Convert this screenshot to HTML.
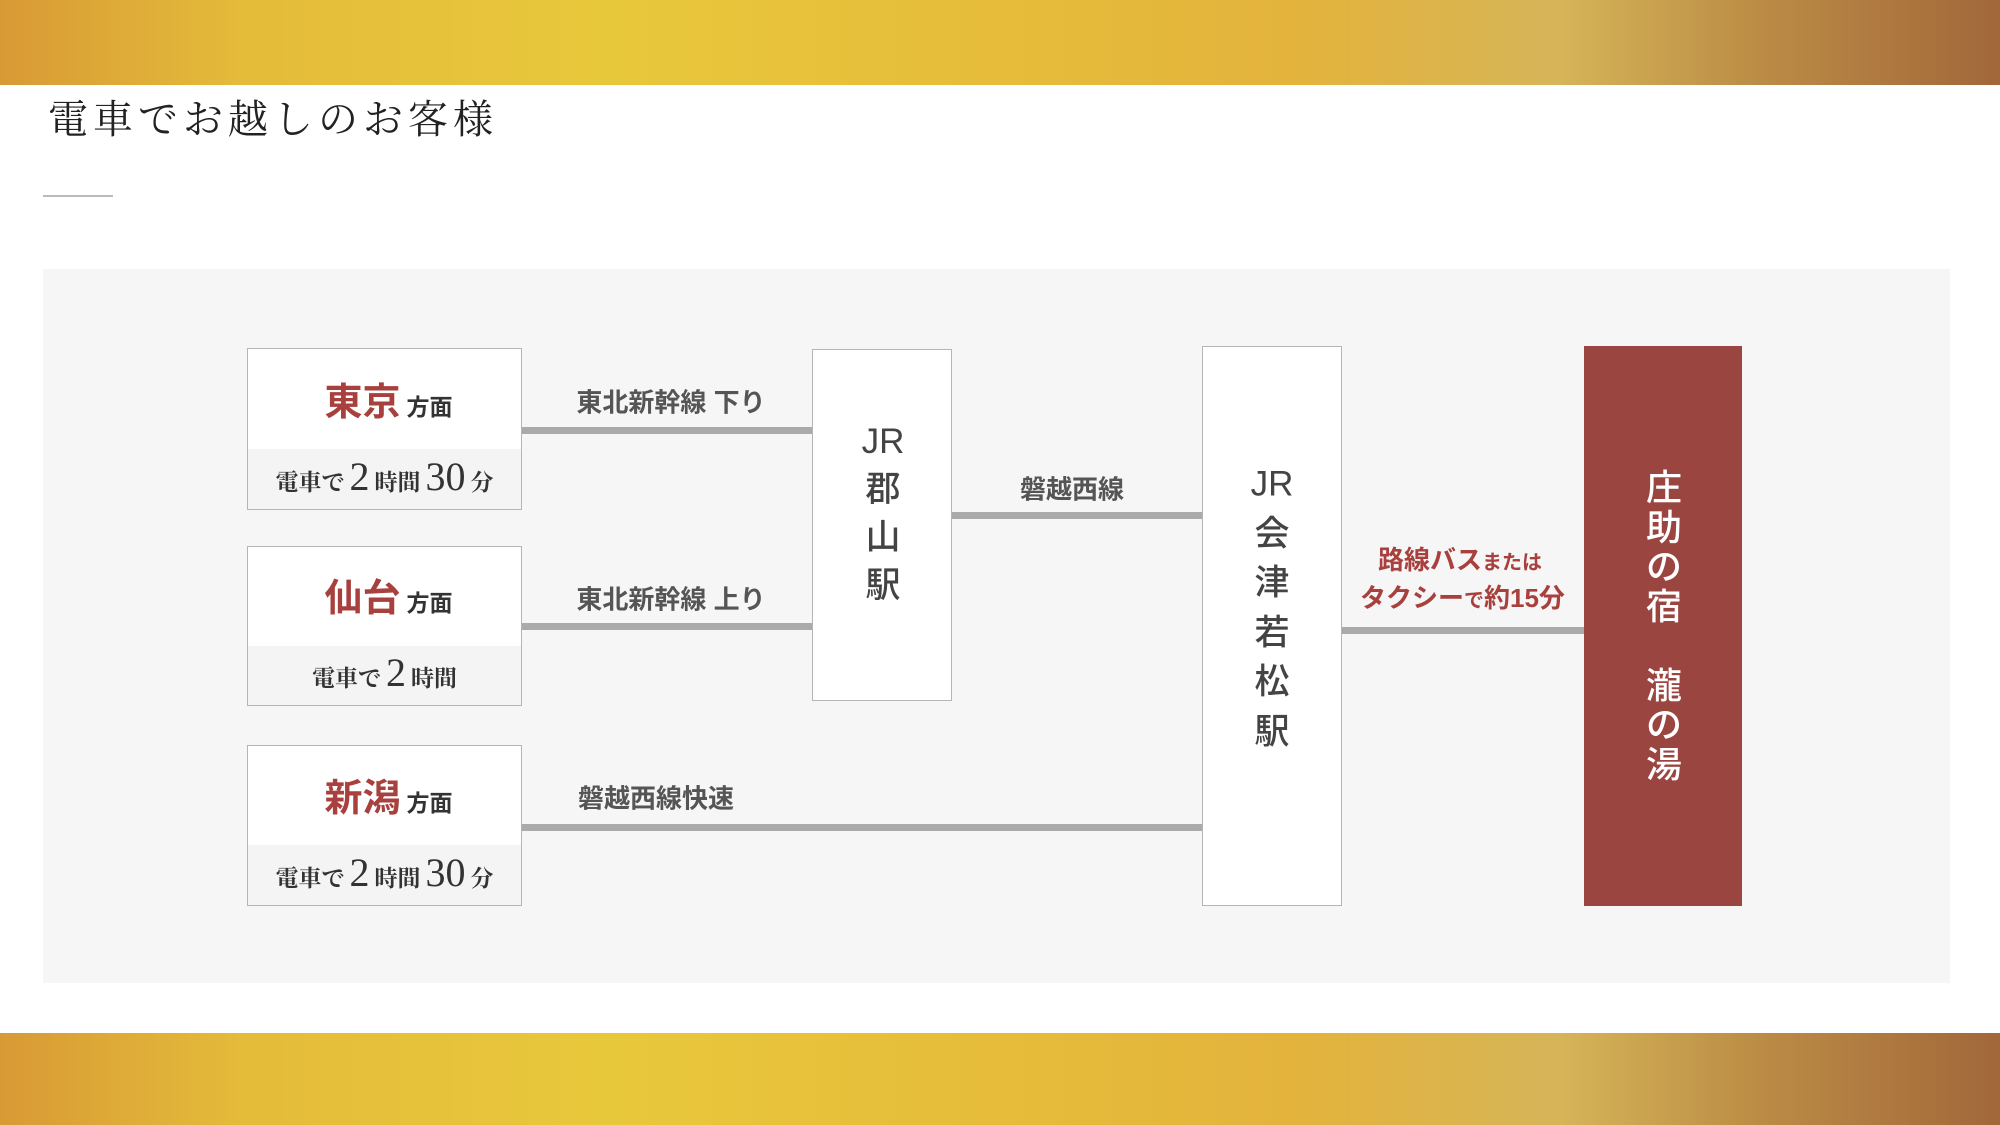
<!DOCTYPE html>
<html><head><meta charset="utf-8">
<style>
*{margin:0;padding:0;box-sizing:border-box}
body{width:2000px;height:1125px;position:relative;background:#fff;overflow:hidden;font-family:"Liberation Sans","Noto Sans CJK JP",sans-serif}
.bar{position:absolute;left:0;width:2000px;background:linear-gradient(90deg,#d89a35 0%,#e4bb3a 12%,#e8c83b 30%,#e6bc3a 50%,#e3b33c 65%,#d6b458 78%,#bb8c45 88%,#a2673a 100%)}
.abs{position:absolute}
.box{position:absolute;background:#fff;border:1.5px solid #b5b5b5}
.low{position:absolute;left:0;right:0;bottom:0;background:#f4f4f4}
.line{position:absolute;height:7px;background:#aaa}
.lbl{position:absolute;font-weight:bold;color:#555;font-size:26px;white-space:nowrap;transform:translate(-50%,-50%)}
.city{position:absolute;left:8px;right:0;text-align:center;white-space:nowrap}
.city b{color:#a8403e;font-size:38px}
.city small{font-size:23px;font-weight:bold;color:#333;margin-left:6px}
.time{position:absolute;left:0;right:0;text-align:center;font-family:"Liberation Serif","Noto Serif CJK JP",serif;color:#333;font-weight:bold;font-size:23px;white-space:nowrap}
.time .n{font-size:40px;font-weight:normal;margin:0 5px}
.vt{position:absolute;text-align:center;transform:translate(-50%,-50%);color:#444;font-size:35px;font-weight:500;line-height:48px}
</style></head><body>
<div class="bar" style="top:0;height:85px"></div>
<div class="bar" style="top:1033px;height:92px"></div>
<div class="abs" style="left:48px;top:96px;font-family:'Liberation Serif','Noto Serif CJK JP',serif;font-size:40px;letter-spacing:5px;color:#222;line-height:48px">電車でお越しのお客様</div>
<div class="abs" style="left:43px;top:195px;width:70px;height:2px;background:#bbb"></div>
<div class="abs" style="left:43px;top:269px;width:1907px;height:714px;background:#f6f6f6"></div>

<div class="line" style="left:522px;width:290px;top:427px"></div>
<div class="line" style="left:522px;width:290px;top:623px"></div>
<div class="line" style="left:522px;width:680px;top:824px"></div>
<div class="line" style="left:952px;width:250px;top:512px"></div>
<div class="line" style="left:1341px;width:243px;top:627px"></div>

<div class="box" style="left:247px;top:348px;width:275px;height:162px"><div class="low" style="height:60px"></div>
<div class="city" style="top:22px"><b>東京</b><small>方面</small></div>
<div class="time" style="top:104px">電車で<span class="n">2</span>時間<span class="n">30</span>分</div></div>

<div class="box" style="left:247px;top:546px;width:275px;height:160px"><div class="low" style="height:59px"></div>
<div class="city" style="top:20px"><b>仙台</b><small>方面</small></div>
<div class="time" style="top:102px">電車で<span class="n">2</span>時間</div></div>

<div class="box" style="left:247px;top:745px;width:275px;height:161px"><div class="low" style="height:60px"></div>
<div class="city" style="top:21px"><b>新潟</b><small>方面</small></div>
<div class="time" style="top:103px">電車で<span class="n">2</span>時間<span class="n">30</span>分</div></div>

<div class="lbl" style="left:671px;top:401px">東北新幹線 下り</div>
<div class="lbl" style="left:671px;top:598px">東北新幹線 上り</div>
<div class="lbl" style="left:1072px;top:488px">磐越西線</div>
<div class="lbl" style="left:656px;top:797px">磐越西線快速</div>
<div class="abs" style="left:1360px;top:543px;width:200px;text-align:center;color:#a8403e;font-weight:bold;font-size:26px;line-height:35px;white-space:nowrap">路線バス<span style="font-size:20px">または</span><br>タクシー<span style="font-size:20px">で</span>約15分</div>

<div class="box" style="left:812px;top:349px;width:140px;height:352px"></div>
<div class="vt" style="left:883px;top:514px">JR<br>郡<br>山<br>駅</div>
<div class="box" style="left:1202px;top:346px;width:140px;height:560px"></div>
<div class="vt" style="left:1272px;top:608px;line-height:49.5px">JR<br>会<br>津<br>若<br>松<br>駅</div>

<div class="abs" style="left:1584px;top:346px;width:158px;height:560px;background:#9b4541"></div>
<div class="vt" style="left:1664px;top:626px;color:#fff;font-size:36px;line-height:39.5px">庄<br>助<br>の<br>宿<br>&nbsp;<br>瀧<br>の<br>湯</div>
</body></html>
